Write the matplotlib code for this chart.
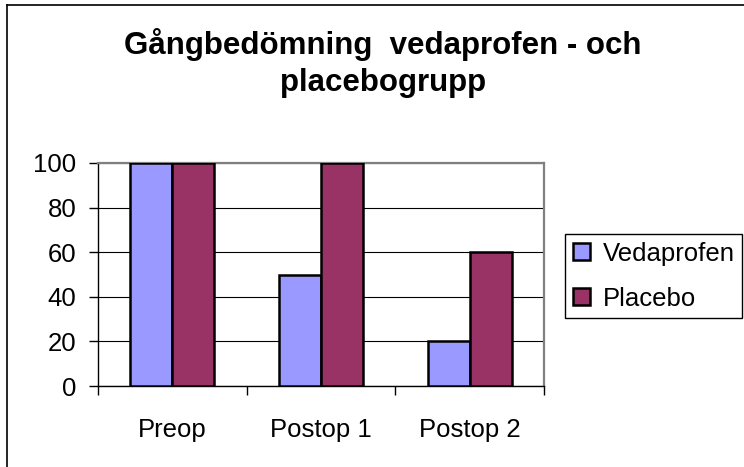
import numpy as np
import matplotlib
matplotlib.use("Agg")
import matplotlib.pyplot as plt
from matplotlib.lines import Line2D

plt.rcParams["font.family"] = ["Liberation Sans", "DejaVu Sans"]

# data
categories = ["Preop", "Postop 1", "Postop 2"]
vedaprofen = [100, 50, 20]
placebo = [100, 100, 60]
series_names = ["Vedaprofen", "Placebo"]
title = "Gångbedömning  vedaprofen - och\nplacebogrupp"

W, H = 744, 467
fig = plt.figure(figsize=(W / 100, H / 100), dpi=100)
ax = fig.add_axes([98 / W, 1 - 386 / H, (544 - 98) / W, (386 - 163) / H])

x = np.arange(len(categories))
bw = 0.2825
ax.bar(x - bw / 2, vedaprofen, bw, color="#9999FF", edgecolor="black",
       linewidth=1.8, label=series_names[0], zorder=3)
ax.bar(x + bw / 2, placebo, bw, color="#993366", edgecolor="black",
       linewidth=1.8, label=series_names[1], zorder=3)

ax.set_xlim(-0.5, 2.5)
ax.set_ylim(0, 100)
ax.set_yticks(range(0, 101, 20))
ax.yaxis.grid(True, color="black", linewidth=0.8, zorder=1)

ax.set_xticks(x)
ax.set_xticklabels(categories)
ax.set_xticks(np.arange(-0.5, 3, 1), minor=True)
ax.tick_params(axis="x", which="major", length=0, pad=23, labelsize=18.5)
ax.tick_params(axis="x", which="minor", length=6.5, width=1, direction="out")
ax.tick_params(axis="y", length=6.5, width=1, pad=9, labelsize=18.5)

for s in ["left", "bottom"]:
    ax.spines[s].set_color("black")
    ax.spines[s].set_linewidth(1)
for s in ["top", "right"]:
    ax.spines[s].set_color("#808080")
    ax.spines[s].set_linewidth(1.6)

fig.text(383 / W, 1 - 28 / H, title, ha="center", va="top", fontsize=22.5,
         fontweight="bold", linespacing=1.3)

fig.legend(loc="upper left", bbox_to_anchor=(565 / W, 1 - 234 / H),
           borderaxespad=0, fontsize=18.5, frameon=True, fancybox=False,
           edgecolor="black", framealpha=1, handlelength=0.66,
           handleheight=0.66, handletextpad=0.5, labelspacing=0.82,
           borderpad=0.3)

# outer chart border (left and top only visible)
fig.add_artist(Line2D([7 / W, 7 / W], [0, 1 - 5 / H], color="black", linewidth=1.2))
fig.add_artist(Line2D([7 / W, 1], [1 - 5 / H, 1 - 5 / H], color="black", linewidth=1.2))

fig.savefig("out.png", dpi=100)
